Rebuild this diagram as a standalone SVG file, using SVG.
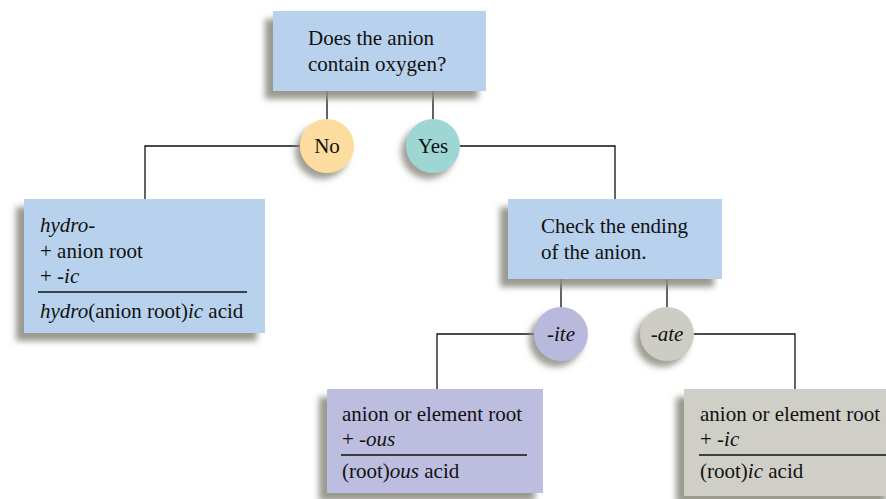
<svg xmlns="http://www.w3.org/2000/svg" width="886" height="499" viewBox="0 0 886 499">
<defs>
<filter id="sh" x="-20%" y="-20%" width="140%" height="140%">
<feDropShadow dx="-8" dy="8" stdDeviation="3" flood-color="#8e8e84" flood-opacity="0.9"/>
</filter>
<filter id="shc" x="-40%" y="-40%" width="180%" height="180%">
<feDropShadow dx="-5" dy="6" stdDeviation="3" flood-color="#8e8e84" flood-opacity="0.85"/>
</filter>
</defs>
<style>
text{font-family:'Liberation Serif','Times New Roman',Tinos,'DejaVu Serif',serif;font-size:21px;fill:#111}
.i{font-style:italic}
.c{text-anchor:middle}
.ln{stroke:#111;stroke-width:1.3;fill:none}
.blue{fill:#b8d1ec;filter:url(#sh)}
.lav{fill:#bdbde0;filter:url(#sh)}
.gray{fill:#cfcfc8;filter:url(#sh)}
</style>
<rect width="886" height="499" fill="#ffffff"/>
<g id="connectors">
<path class="ln" d="M327,91V120M433,91V120"/>
<path class="ln" d="M300,146H145V200"/>
<path class="ln" d="M460,146H615V200"/>
<path class="ln" d="M561,279V308M667,279V308"/>
<path class="ln" d="M534,334H437V389"/>
<path class="ln" d="M694,334H795V389"/>
</g>
<g font-family="Liberation Serif, serif">
<g id="q1">
<rect class="blue" x="273" y="11" width="213" height="80"/>
<text x="308" y="45">Does the anion</text>
<text x="308" y="71">contain oxygen?</text>
</g>
<g id="no">
<circle cx="327" cy="146" r="27" fill="#fddc9f" filter="url(#shc)"/>
<text class="c" x="327" y="153">No</text>
</g>
<g id="yes">
<circle cx="433" cy="146" r="27" fill="#9dd6d3" filter="url(#shc)"/>
<text class="c" x="433" y="153">Yes</text>
</g>
<g id="hydro">
<rect class="blue" x="24" y="199" width="241" height="134"/>
<text class="i" x="40" y="232">hydro-</text>
<text x="40" y="258">+ anion root</text>
<text x="40" y="283">+ -<tspan class="i">ic</tspan></text>
<line class="ln" x1="38" y1="292" x2="247" y2="292"/>
<text x="40" y="318"><tspan class="i">hydro</tspan>(anion root)<tspan class="i">ic</tspan> acid</text>
</g>
<g id="q2">
<rect class="blue" x="508" y="199" width="214" height="80"/>
<text x="541" y="233">Check the ending</text>
<text x="541" y="259">of the anion.</text>
</g>
<g id="ite">
<circle cx="561" cy="334" r="27" fill="#b9b9de" filter="url(#shc)"/>
<text class="c i" x="561" y="341">-ite</text>
</g>
<g id="ate">
<circle cx="667" cy="334" r="27" fill="#cdcdc6" filter="url(#shc)"/>
<text class="c i" x="667" y="341">-ate</text>
</g>
<g id="ous">
<rect class="lav" x="327" y="389" width="216" height="104"/>
<text x="342" y="421">anion or element root</text>
<text x="342" y="446">+ -<tspan class="i">ous</tspan></text>
<line class="ln" x1="341" y1="455" x2="527" y2="455"/>
<text x="342" y="478">(root)<tspan class="i">ous</tspan> acid</text>
</g>
<g id="ic">
<rect class="gray" x="684" y="389" width="210" height="107"/>
<text x="700" y="421">anion or element root</text>
<text x="700" y="446">+ -<tspan class="i">ic</tspan></text>
<line class="ln" x1="699" y1="455" x2="886" y2="455"/>
<text x="700" y="478">(root)<tspan class="i">ic</tspan> acid</text>
</g>
</g>
</svg>
